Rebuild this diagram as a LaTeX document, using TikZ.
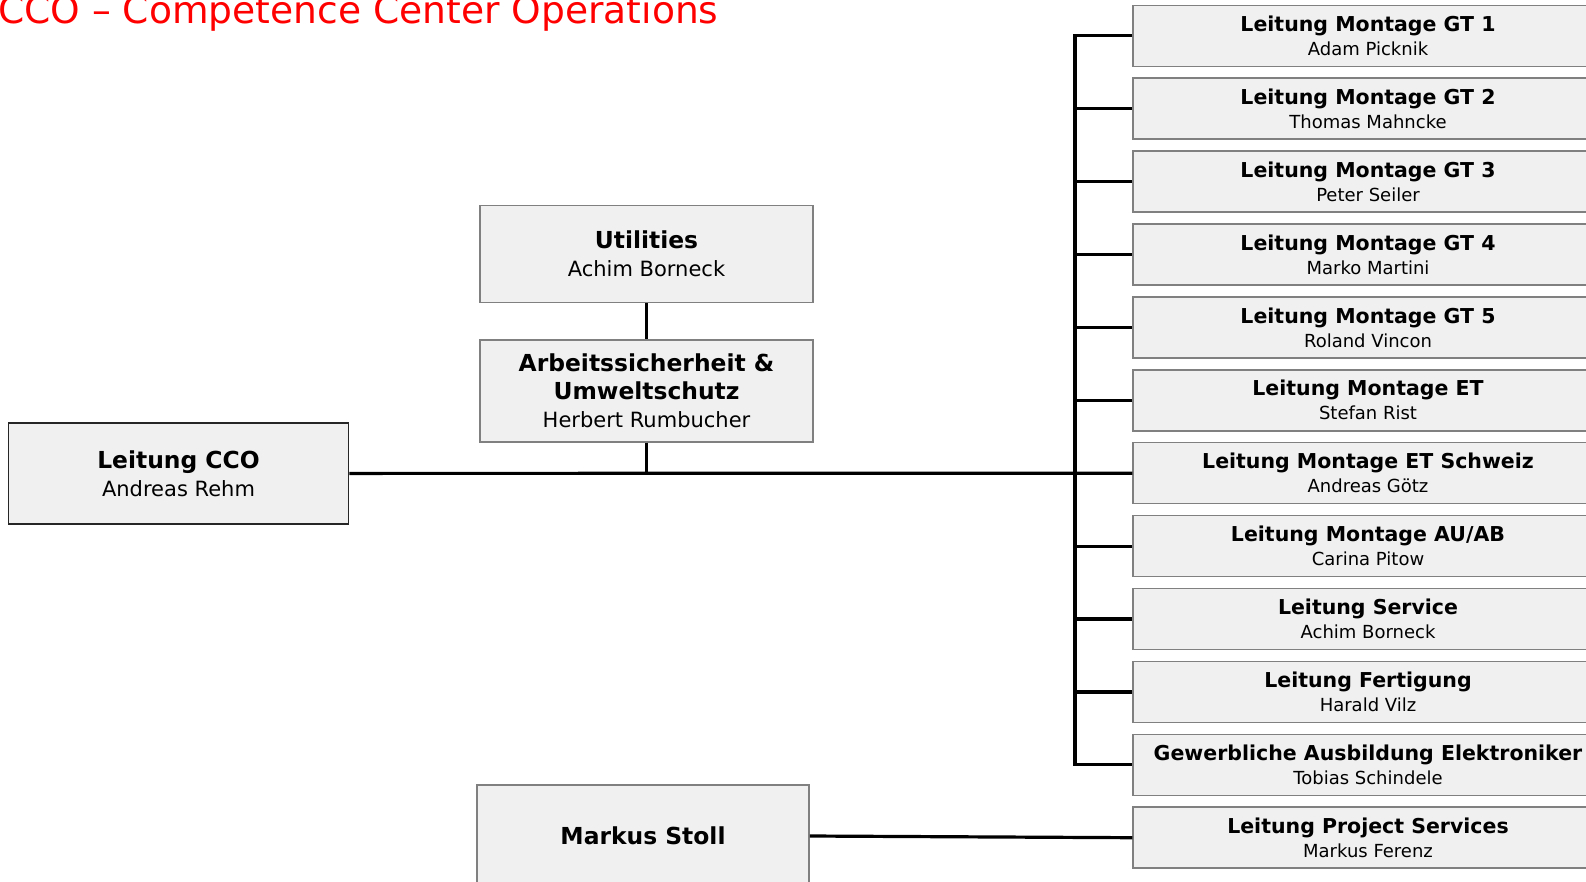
\documentclass[tikz,border=0pt]{standalone}
\usepackage{fontspec}
\setmainfont{DejaVu Sans}
\usepackage{tikz}
\usetikzlibrary{positioning}

\newcommand{\rolefont}{\fontsize{20.5}{24}\selectfont\bfseries}
\newcommand{\bigrolefont}{\fontsize{23.4}{29}\selectfont\bfseries}
\newcommand{\orgunit}[2]{{\rolefont #1}\\#2}
\newcommand{\bigunit}[2]{{\bigrolefont #1}\\#2}

\begin{document}
\begin{tikzpicture}[x=1pt, y=-1pt]
	\tikzstyle{unit}=[rectangle, draw=black!50, fill=black!6, line width=1.5pt, minimum width=470pt, minimum height=61pt, align=center, inner sep=0pt, font=\fontsize{18}{24}\selectfont, node distance=10.4pt]
	\tikzstyle{bigunit}=[unit, minimum width=333pt, minimum height=100pt, font=\fontsize{21}{28}\selectfont, node distance=36pt]
	\tikzstyle{connect}=[line width=3.2pt]
	
	\clip (0,0) rectangle (1586,881);
	
	\node[anchor=base west, inner sep=0pt, text=red, font=\fontsize{37.6}{40}\selectfont] (title) at (-2,23) {CCO – Competence Center Operations};
	
	\node[bigunit, draw=black!85, minimum width=340pt, minimum height=101pt] (cco) at (178.5,473.4) {\bigunit{Leitung CCO}{Andreas Rehm}};
	
	\node[bigunit, minimum height=102pt] (asu) at (646.5,390.9) {{\bigrolefont Arbeitssicherheit \&}\\{\bigrolefont Umweltschutz}\\Herbert Rumbucher};
	\node[bigunit, minimum height=97pt] (util) [above=of asu] {\bigunit{Utilities}{Achim Borneck}};
	
	\node[bigunit, minimum width=332pt, minimum height=102pt] (stoll) at (643,836) {\bigrolefont Markus Stoll};
	
	\node[unit] (m1) at (1368,35.8) {\orgunit{Leitung Montage GT 1}{Adam Picknik}};
	\node[unit] (m2) [below=of m1] {\orgunit{Leitung Montage GT 2}{Thomas Mahncke}};
	\node[unit] (m3) [below=of m2] {\orgunit{Leitung Montage GT 3}{Peter Seiler}};
	\node[unit] (m4) [below=of m3] {\orgunit{Leitung Montage GT 4}{Marko Martini}};
	\node[unit] (m5) [below=of m4] {\orgunit{Leitung Montage GT 5}{Roland Vincon}};
	\node[unit] (m6) [below=of m5] {\orgunit{Leitung Montage ET}{Stefan Rist}};
	\node[unit] (m7) [below=of m6] {\orgunit{Leitung Montage ET Schweiz}{Andreas Götz}};
	\node[unit] (m8) [below=of m7] {\orgunit{Leitung Montage AU/AB}{Carina Pitow}};
	\node[unit] (m9) [below=of m8] {\orgunit{Leitung Service}{Achim Borneck}};
	\node[unit] (m10) [below=of m9] {\orgunit{Leitung Fertigung}{Harald Vilz}};
	\node[unit] (m11) [below=of m10] {\orgunit{Gewerbliche Ausbildung Elektroniker}{Tobias Schindele}};
	\node[unit] (m12) [below=of m11] {\orgunit{Leitung Project Services}{Markus Ferenz}};
	
	\coordinate (bus) at (1075,0);
	
	\draw[connect] (m1.west) -- (m1.west -| bus) -- (m11.west -| bus) -- (m11.west);
	
	\path (m2.west -| bus) edge [connect] (m2.west)
	(m3.west -| bus) edge [connect] (m3.west)
	(m4.west -| bus) edge [connect] (m4.west)
	(m5.west -| bus) edge [connect] (m5.west)
	(m6.west -| bus) edge [connect] (m6.west)
	(m8.west -| bus) edge [connect] (m8.west)
	(m9.west -| bus) edge [connect] (m9.west)
	(m10.west -| bus) edge [connect] (m10.west)
	
	(cco.east) edge [connect] (m7.west)
	(util) edge [connect] (asu)
	(asu.south) edge [connect] (asu.south |- cco.east)
	(stoll.east) edge [connect] (m12.west);
	
\end{tikzpicture}
\end{document}
